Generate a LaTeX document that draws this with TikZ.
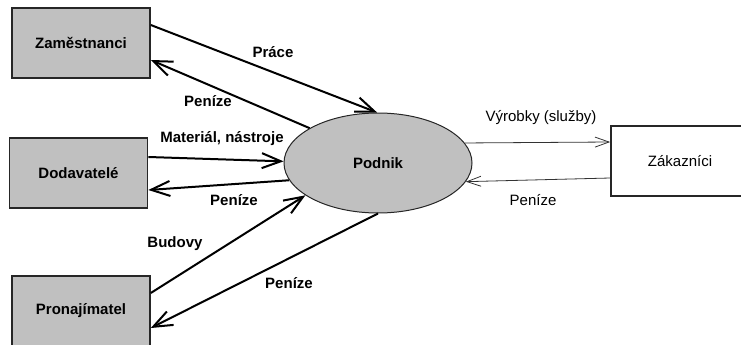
\documentclass[tikz,border=0pt]{standalone}
\usepackage{fontspec}
\setmainfont{Liberation Sans}
\usetikzlibrary{arrows.meta,shapes.geometric}
\definecolor{boxgray}{HTML}{C0C0C0}
\begin{document}
\begin{tikzpicture}[x=1pt,y=-1pt,
  every node/.style={font=\fontsize{15}{18}\selectfont, inner sep=0pt},
  party/.style={draw=black!85, line width=1.6pt, fill=boxgray, minimum width=138pt, minimum height=70pt, font=\fontsize{15}{18}\selectfont\bfseries},
  client/.style={draw=black!85, line width=1.6pt, fill=white, minimum width=138pt, minimum height=70pt},
  firm/.style={ellipse, draw=black!85, line width=1pt, fill=boxgray, minimum width=188pt, minimum height=100pt, font=\fontsize{15}{18}\selectfont\bfseries},
  flow/.style={line width=2pt, -{Straight Barb[length=19pt,width=15pt,line width=2pt]}},
  thinflow/.style={line width=0.8pt, black!80, -{Straight Barb[length=14pt,width=10pt,line width=0.8pt]}},
  lbl/.style={font=\fontsize{15}{18}\selectfont\bfseries},
  plainlbl/.style={font=\fontsize{15}{18}\selectfont}]
\useasboundingbox (0,0) rectangle (741,345);
\begin{scope}
\clip (0,0) rectangle (741,345);

% parties
\node[party] (zam) at (81,43) {Zaměstnanci};
\node[party] (dod) at (78.5,173) {Dodavatelé};
\node[party] (pro) at (81,311) {Pronajímatel};
\node[client] (zak) at (680,161) {Zákazníci};
\node[firm] (pod) at (378,163) {Podnik};

% flows between the firm and the suppliers of inputs
\draw[flow] ([yshift=18pt]zam.east) -- (pod.91);
\draw[flow] (pod.153) -- ([yshift=-17pt]zam.east);
\draw[flow] ([yshift=16pt]dod.east) -- (pod.179.4);
\draw[flow] (pod.191) -- ([yshift=-17pt]dod.east);
\draw[flow] ([yshift=18pt]pro.east) -- (pod.204.6);
\draw[flow] (pod.270) -- ([yshift=-17pt]pro.east);

% flows with the customers
\draw[thinflow] (pod.13.6) -- ([yshift=19pt]zak.west);
\draw[thinflow] ([yshift=-17pt]zak.west) -- (pod.348.4);

% labels
\node[lbl] (l1) at (273,52) {Práce};
\node[lbl] (l2) at (208,101) {Peníze};
\node[lbl] (l3) at (222,139) {Materiál, nástroje};
\node[lbl] (l4) at (234,200) {Peníze};
\node[lbl] (l5) at (175,244) {Budovy};
\node[lbl] (l6) at (289,283) {Peníze};
\node[plainlbl] (l7) at (541,118) {Výrobky (služby)};
\node[plainlbl] (l8) at (533,200) {Peníze};
\end{scope}
\end{tikzpicture}
\end{document}
